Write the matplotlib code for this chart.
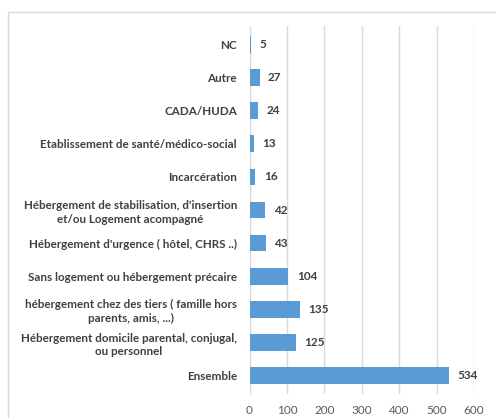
import matplotlib.pyplot as plt
from matplotlib.patches import Rectangle

categories = [
    "Ensemble",
    "Hébergement domicile parental, conjugal,\nou personnel",
    "hébergement chez des tiers ( famille hors\nparents, amis, ...)",
    "Sans logement ou hébergement précaire",
    "Hébergement d'urgence ( hôtel, CHRS ..)",
    "Hébergement de stabilisation, d'insertion\net/ou Logement acompagné",
    "Incarcération",
    "Etablissement de santé/médico-social",
    "CADA/HUDA",
    "Autre",
    "NC",
]
values = [534, 125, 135, 104, 43, 42, 16, 13, 24, 27, 5]
xticks = [0, 100, 200, 300, 400, 500, 600]

plt.rcParams['font.family'] = ['Lato', 'DejaVu Sans']

fig = plt.figure(figsize=(4.96, 4.18), dpi=100)
# chart border (cut at right and bottom like the reference)
fig.patches.append(Rectangle((8 / 496, -0.1), 1.2, 1 - 12 / 418 + 0.1,
                             transform=fig.transFigure, fill=False,
                             edgecolor="#D9D9D9", linewidth=1))

ax = fig.add_axes([249.5 / 496, 1 - 394 / 418, (474 - 249.5) / 496, (394 - 26) / 418])
pos = list(range(len(categories)))
ax.barh(pos, values, height=0.5, color="#5B9BD5", zorder=3)
for p, v in zip(pos, values):
    ax.annotate(str(v), (v, p), xytext=(6, 0), textcoords="offset points",
                va="center", ha="left", fontsize=8.5, fontweight="bold",
                color="#404040")

ax.set_xlim(0, 600)
ax.set_ylim(-0.55, len(categories) - 0.45)
ax.set_xticks(xticks)
ax.set_xticklabels([str(t) for t in xticks])
ax.set_yticks(pos)
ax.set_yticklabels(categories, fontsize=8.4, fontweight="bold", color="#404040",
                   multialignment="center", linespacing=1.3)
ax.tick_params(axis="x", length=0, labelsize=8.5, labelcolor="#595959", pad=8)
ax.tick_params(axis="y", length=0, pad=9)
ax.grid(axis="x", color="#D9D9D9", linewidth=1, zorder=0)
for s in ["top", "right", "bottom"]:
    ax.spines[s].set_visible(False)
ax.spines["left"].set_color("#D9D9D9")

fig.savefig("out.png", dpi=100)
